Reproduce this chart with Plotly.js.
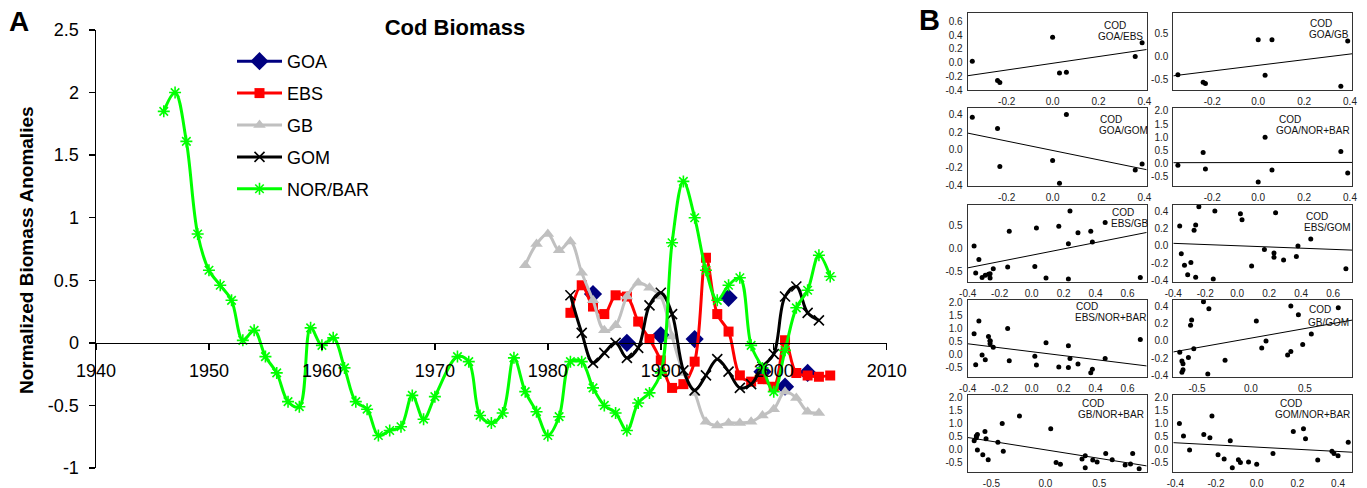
<!DOCTYPE html>
<html>
<head>
<meta charset="utf-8">
<script src="https://cdn.plot.ly/plotly-3.0.1.min.js"></script>
<style>
  html, body { margin: 0; padding: 0; background: #fff; }
  #chart { width: 1367px; height: 488px; }
</style>
</head>
<body>
<div id="chart"></div>
<script>
// ---- Cod biomass anomalies (normalized) by stock ----
const goaYears = [1984, 1987, 1990, 1993, 1996, 1999, 2001, 2003];
const goaVals  = [0.39, 0.00, 0.06, 0.03, 0.36, -0.23, -0.35, -0.24];

const ebsStart = 1982;
const ebsVals = [0.24, 0.46, 0.29, 0.23, 0.38, 0.37, 0.17, 0.03, -0.14, -0.36,
                 -0.33, -0.15, 0.68, 0.23, 0.09, -0.26, -0.31, -0.29, -0.35, 0.02,
                 -0.24, -0.26, -0.27, -0.26];

const gbStart = 1978;
const gbVals = [0.62, 0.79, 0.87, 0.74, 0.81, 0.56, 0.34, 0.10, 0.14, 0.37,
                0.48, 0.44, 0.37, 0.05, -0.24, -0.40, -0.63, -0.66, -0.64, -0.64,
                -0.63, -0.58, -0.53, -0.39, -0.44, -0.55, -0.56];

const gomStart = 1982;
const gomVals = [0.38, 0.08, -0.16, -0.08, 0.00, -0.12, -0.04, 0.30, 0.40, 0.23,
                 -0.22, -0.38, -0.26, -0.13, -0.23, -0.36, -0.33, -0.19, -0.09, 0.37,
                 0.45, 0.24, 0.18];

const norStart = 1946;
const norVals = [1.85, 2.00, 1.61, 0.87, 0.58, 0.46, 0.34, 0.02, 0.10, -0.11,
                 -0.24, -0.47, -0.51, 0.12, -0.02, 0.04, -0.20, -0.47, -0.53, -0.74,
                 -0.70, -0.67, -0.42, -0.61, -0.43, null, -0.11, -0.15, -0.58, -0.64,
                 -0.56, -0.12, -0.39, -0.55, -0.74, -0.59, -0.15, -0.15, -0.36, -0.50,
                 -0.56, -0.70, -0.48, -0.40, -0.24, 0.80, 1.29, 1.00, 0.58, 0.34,
                 0.46, 0.52, -0.02, -0.20, -0.39, -0.06, 0.28, 0.42, 0.70, 0.53];

const seriesNames = ['GOA', 'EBS', 'GB', 'GOM', 'NOR/BAR'];
const yearTicks = [1940, 1950, 1960, 1970, 1980, 1990, 2000, 2010];
const anomalyTicks = [-1, -0.5, 0, 0.5, 1, 1.5, 2, 2.5];

// pairwise comparison panels (x stock, y stock) and their captions
const pairStocks = [['GOA', 'EBS'], ['GOA', 'GB'], ['GOA', 'GOM'], ['GOA', 'NOR'],
                    ['EBS', 'GB'], ['EBS', 'GOM'], ['EBS', 'NOR'], ['GB', 'GOM'],
                    ['GB', 'NOR'], ['GOM', 'NOR']];
const pairLabels = ['GOA/EBS', 'GOA/GB', 'GOA/GOM', 'GOA/NOR+BAR', 'EBS/GB',
                    'EBS/GOM', 'EBS/NOR+BAR', 'GB/GOM', 'GB/NOR+BAR', 'GOM/NOR+BAR'];
const speciesLabel = 'COD';

// ---- helpers ----
const FONT = 'Liberation Sans, Arial, Helvetica, sans-serif';
const W = 1367, H = 488;
const seq = (start, n) => Array.from({length: n}, (_, i) => start + i);
const fx = px => px / W;
const fy = py => 1 - py / H;
const fmt1 = v => v.toFixed(1);

const stocks = {
  GOA: {years: goaYears, vals: goaVals},
  EBS: {years: seq(ebsStart, ebsVals.length), vals: ebsVals},
  GB:  {years: seq(gbStart, gbVals.length), vals: gbVals},
  GOM: {years: seq(gomStart, gomVals.length), vals: gomVals},
  NOR: {years: seq(norStart, norVals.length), vals: norVals}
};

// ---- panel A: time series ----
const mainX = {domain: [fx(96), fx(886.7)], range: [1940, 2010]};
const mainY = {domain: [fy(468), fy(30)], range: [-1, 2.5]};

// GOA is surveyed only every few years: keep the points unconnected
const goaX = [], goaY = [];
goaYears.forEach((yr, i) => {
  goaX.push(yr); goaY.push(goaVals[i]);
  if (i < goaYears.length - 1) { goaX.push(yr + 0.5); goaY.push(null); }
});

const lineStyle = (color) => ({color: color, width: 3, shape: 'spline', smoothing: 1});
const traces = [
  {x: goaX, y: goaY, name: seriesNames[0], legendgroup: 'g1', mode: 'lines+markers',
   connectgaps: false, line: {color: '#000080', width: 3},
   marker: {symbol: 'diamond', size: 14, color: '#000080'}},
  {x: stocks.EBS.years, y: ebsVals, name: seriesNames[1], legendgroup: 'g2', mode: 'lines+markers',
   line: lineStyle('#ff0000'), marker: {symbol: 'square', size: 10, color: '#ff0000'}},
  {x: stocks.GB.years, y: gbVals, name: seriesNames[2], legendgroup: 'g3', mode: 'lines+markers',
   line: lineStyle('#c0c0c0'), marker: {symbol: 'triangle-up', size: 11, color: '#c0c0c0'}},
  {x: stocks.GOM.years, y: gomVals, name: seriesNames[3], legendgroup: 'g4', mode: 'lines+markers',
   line: lineStyle('#000000'),
   marker: {symbol: 'x-thin-open', size: 10, color: '#000000', line: {color: '#000000', width: 1.6}}},
  {x: stocks.NOR.years, y: norVals, name: seriesNames[4], legendgroup: 'g5', mode: 'lines+markers',
   connectgaps: true, line: lineStyle('#00ff00'),
   marker: {symbol: 'asterisk-open', size: 10, color: '#00ff00', line: {color: '#00ff00', width: 1.6}}}
];

const zeroPos = mainY.domain[0] + (mainY.domain[1] - mainY.domain[0]) *
                (0 - mainY.range[0]) / (mainY.range[1] - mainY.range[0]);

const layout = {
  width: W, height: H,
  margin: {l: 0, r: 0, t: 0, b: 0},
  paper_bgcolor: '#ffffff', plot_bgcolor: 'rgba(0,0,0,0)',
  font: {family: FONT, color: '#000000'},
  title: {text: '<b>Cod Biomass</b>', x: fx(455), xanchor: 'center', xref: 'paper',
          y: fy(27), yanchor: 'middle', yref: 'paper', font: {size: 22, family: FONT}},
  showlegend: true,
  legend: {x: fx(232), xanchor: 'left', y: fy(43), yanchor: 'top', bgcolor: 'rgba(0,0,0,0)',
           font: {size: 18, family: FONT}, tracegroupgap: 5.5, itemwidth: 45,
           traceorder: 'grouped'},
  xaxis: {domain: mainX.domain, range: mainX.range, anchor: 'free', position: zeroPos,
          tickvals: yearTicks, ticktext: yearTicks.map(String),
          ticks: 'outside', ticklen: 6, tickwidth: 1.5, tickcolor: '#000',
          showline: true, linewidth: 1.5, linecolor: '#000', showgrid: false, zeroline: false,
          tickfont: {size: 18, family: FONT}, ticklabelstandoff: 5},
  yaxis: {domain: mainY.domain, range: mainY.range, anchor: 'x',
          tickvals: anomalyTicks, ticktext: anomalyTicks.map(String),
          ticks: 'outside', ticklen: 6, tickwidth: 1.5, tickcolor: '#000',
          showline: true, linewidth: 1.5, linecolor: '#000', showgrid: false, zeroline: false,
          tickfont: {size: 18, family: FONT}, ticklabelstandoff: 6},
  annotations: [
    {text: '<b>A</b>', x: fx(19), y: fy(21), xref: 'paper', yref: 'paper', showarrow: false,
     xanchor: 'center', yanchor: 'middle', font: {size: 28, family: FONT}},
    {text: '<b>B</b>', x: fx(930), y: fy(20), xref: 'paper', yref: 'paper', showarrow: false,
     xanchor: 'center', yanchor: 'middle', font: {size: 29, family: FONT}},
    {text: '<b>Normalized Biomass Anomalies</b>', textangle: -90, x: fx(27), y: fy(250),
     xref: 'paper', yref: 'paper', showarrow: false, xanchor: 'center', yanchor: 'middle',
     font: {size: 19, family: FONT}}
  ]
};

// ---- panel B: pairwise scatter plots with least-squares lines ----
const axisRange = {GOA: [-0.37, 0.41], EBS: [-0.40, 0.72], GB: [-0.72, 0.94],
                   GOM: [-0.41, 0.47], NOR: [-0.85, 2.1]};
const axisTicks = {GOA: [-0.2, 0, 0.2, 0.4], EBS: [-0.4, -0.2, 0, 0.2, 0.4, 0.6],
                   GB: [-0.5, 0, 0.5], GOM: [-0.4, -0.2, 0, 0.2, 0.4],
                   NOR: [-0.5, 0, 0.5, 1, 1.5, 2]};
const colPx = [[967.7, 1146.7], [1173.3, 1352.3]];
const rowPx = [[13.3, 90], [108.3, 186], [205, 281.7], [300, 376.7], [395, 471.7]];
// caption placement inside each panel (fractions of the panel box)
const capPos = [
  [0.754, 0.838, 0.721, 0.695], [0.758, 0.865, 0.752, 0.722],
  [0.733, 0.855, 0.726, 0.712], [0.583, 0.855, 0.568, 0.712],
  [0.800, 0.905, 0.795, 0.762], [0.736, 0.845, 0.726, 0.702],
  [0.597, 0.910, 0.594, 0.767], [0.755, 0.870, 0.747, 0.713],
  [0.633, 0.885, 0.611, 0.742], [0.590, 0.895, 0.5625, 0.752]
];

function pairUp(a, b) {
  const A = stocks[a], B = stocks[b];
  const xs = [], ys = [];
  A.years.forEach((yr, i) => {
    const j = B.years.indexOf(yr);
    if (j >= 0 && A.vals[i] !== null && B.vals[j] !== null) {
      xs.push(A.vals[i]); ys.push(B.vals[j]);
    }
  });
  return {xs, ys};
}

function leastSquares(xs, ys) {
  const n = xs.length;
  const mx = xs.reduce((s, v) => s + v, 0) / n;
  const my = ys.reduce((s, v) => s + v, 0) / n;
  let sxy = 0, sxx = 0;
  for (let i = 0; i < n; i++) { sxy += (xs[i] - mx) * (ys[i] - my); sxx += (xs[i] - mx) ** 2; }
  const slope = sxy / sxx;
  return {slope, intercept: my - slope * mx};
}

pairStocks.forEach(([a, b], k) => {
  const n = k + 2;
  const xa = 'x' + n, ya = 'y' + n;
  const col = colPx[k % 2], row = rowPx[Math.floor(k / 2)];
  const {xs, ys} = pairUp(a, b);
  const fit = leastSquares(xs, ys);
  const xr = axisRange[a], yr = axisRange[b];

  traces.push({x: xr, y: xr.map(v => fit.intercept + fit.slope * v), xaxis: xa, yaxis: ya,
               mode: 'lines', line: {color: '#000', width: 1}, showlegend: false, hoverinfo: 'skip'});
  traces.push({x: xs, y: ys, xaxis: xa, yaxis: ya, mode: 'markers', showlegend: false,
               marker: {color: '#000', size: 5}});

  const common = {showline: true, mirror: true, linecolor: '#333', linewidth: 1,
                  showgrid: false, zeroline: false, ticks: '',
                  tickfont: {size: 10, family: FONT, color: '#222'}, ticklabelstandoff: 2};
  layout['xaxis' + n] = Object.assign({}, common, {
    domain: [fx(col[0]), fx(col[1])], range: xr, anchor: ya,
    tickvals: axisTicks[a], ticktext: axisTicks[a].map(fmt1)});
  layout['yaxis' + n] = Object.assign({}, common, {
    domain: [fy(row[1]), fy(row[0])], range: yr, anchor: xa,
    tickvals: axisTicks[b], ticktext: axisTicks[b].map(fmt1)});

  const p = capPos[k];
  const capFont = {size: 10, family: FONT, color: '#111'};
  layout.annotations.push(
    {text: speciesLabel, xref: xa + ' domain', yref: ya + ' domain', x: p[0], y: p[1],
     xanchor: 'left', yanchor: 'middle', showarrow: false, font: capFont, borderpad: 0},
    {text: pairLabels[k], xref: xa + ' domain', yref: ya + ' domain', x: p[2], y: p[3],
     xanchor: 'left', yanchor: 'middle', showarrow: false, font: capFont, borderpad: 0});
});

Plotly.newPlot('chart', traces, layout, {staticPlot: true, displayModeBar: false});
</script>
</body>
</html>
